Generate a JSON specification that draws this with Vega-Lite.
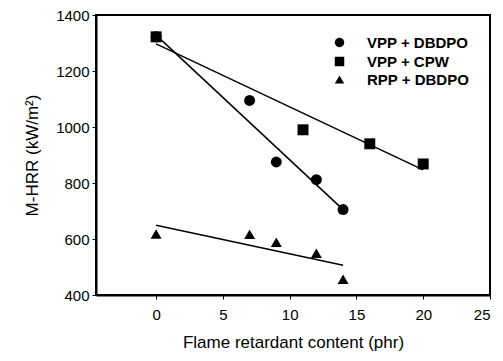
{
  "$schema": "https://vega.github.io/schema/vega-lite/v6.json",
  "autosize": {"type": "none"},
  "width": 394,
  "height": 280,
  "padding": {"left": 96, "top": 15, "right": 13, "bottom": 66},
  "background": "white",
  "config": {
    "view": {"stroke": "black", "strokeWidth": 2},
    "font": "Liberation Sans",
    "axis": {"grid": false, "domainColor": "black", "domainWidth": 2, "tickColor": "black", "labelColor": "black", "titleColor": "black", "labelFontSize": 15, "titleFontSize": 17, "titleFontWeight": "normal", "tickSize": 4, "format": "d"}
  },
  "datasets": {
    "pts": [
      {"x": 0, "y": 1322, "series": "VPP + DBDPO"},
      {"x": 7, "y": 1095, "series": "VPP + DBDPO"},
      {"x": 9, "y": 875, "series": "VPP + DBDPO"},
      {"x": 12, "y": 812, "series": "VPP + DBDPO"},
      {"x": 14, "y": 705, "series": "VPP + DBDPO"},
      {"x": 0, "y": 1322, "series": "VPP + CPW"},
      {"x": 11, "y": 990, "series": "VPP + CPW"},
      {"x": 16, "y": 940, "series": "VPP + CPW"},
      {"x": 20, "y": 868, "series": "VPP + CPW"},
      {"x": 0, "y": 618, "series": "RPP + DBDPO"},
      {"x": 7, "y": 617, "series": "RPP + DBDPO"},
      {"x": 9, "y": 588, "series": "RPP + DBDPO"},
      {"x": 12, "y": 549, "series": "RPP + DBDPO"},
      {"x": 14, "y": 456, "series": "RPP + DBDPO"}
    ],
    "fits": [
      {"x": 0, "y": 1328, "series": "VPP + DBDPO"},
      {"x": 14, "y": 705, "series": "VPP + DBDPO"},
      {"x": 0, "y": 1297, "series": "VPP + CPW"},
      {"x": 20, "y": 847, "series": "VPP + CPW"},
      {"x": 0, "y": 649, "series": "RPP + DBDPO"},
      {"x": 14, "y": 506, "series": "RPP + DBDPO"}
    ]
  },
  "layer": [
    {
      "data": {"name": "fits"},
      "mark": {"type": "line", "color": "black", "strokeWidth": 1.5},
      "encoding": {
        "x": {"field": "x", "type": "quantitative", "scale": {"domain": [-4.5, 25], "nice": false, "zero": false}, "axis": {"values": [0, 5, 10, 15, 20, 25], "title": "Flame retardant content (phr)", "titlePadding": 12, "labelPadding": 8}},
        "y": {"field": "y", "type": "quantitative", "scale": {"domain": [400, 1400], "nice": false, "zero": false}, "axis": {"values": [400, 600, 800, 1000, 1200, 1400], "title": "M-HRR (kW/m²)", "titlePadding": 14, "labelPadding": 3}},
        "detail": {"field": "series"}
      }
    },
    {
      "data": {"name": "pts"},
      "mark": {"type": "point", "filled": true, "opacity": 1, "size": 120},
      "encoding": {
        "x": {"field": "x", "type": "quantitative"},
        "y": {"field": "y", "type": "quantitative"},
        "color": {"value": "black"},
        "shape": {
          "field": "series", "type": "nominal",
          "scale": {"domain": ["VPP + DBDPO", "VPP + CPW", "RPP + DBDPO"], "range": ["circle", "square", "triangle-up"]},
          "legend": {"orient": "none", "legendX": 236, "legendY": 20, "title": null, "labelFontSize": 15, "labelFontWeight": "bold", "labelColor": "black", "symbolFillColor": "black", "symbolStrokeColor": "black", "symbolSize": 90, "rowPadding": 2, "labelOffset": 20}
        }
      }
    }
  ]
}
